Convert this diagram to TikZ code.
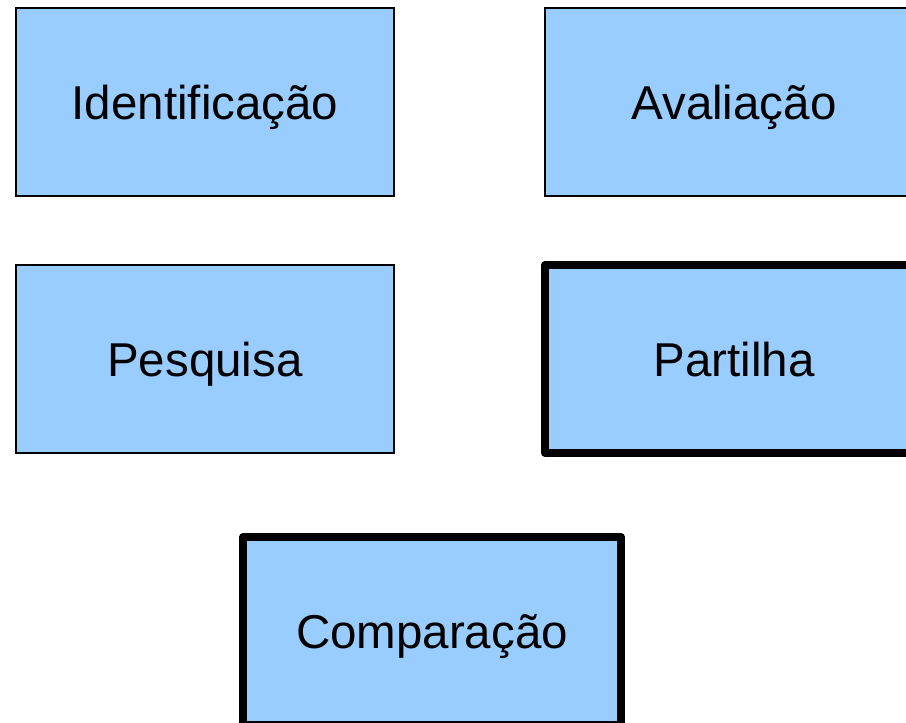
\documentclass[tikz,border=0pt]{standalone}
\usepackage{fontspec}
\setmainfont{Liberation Sans}
\definecolor{stageblue}{HTML}{99CCFF}

\tikzset{
  stagebox/.style={draw=black, fill=stageblue, line width=1.5pt,
    minimum width=378pt, minimum height=188pt, inner sep=0pt,
    text height=34pt, text depth=0pt,
    font=\fontsize{47.5}{56}\selectfont},
  keystage/.style={stagebox, line width=8pt, line join=round}
}

\begin{document}
\begin{tikzpicture}[x=1pt,y=-1pt]
    % page frame
    \useasboundingbox (0,0) rectangle (906,723);
    \clip (0,0) rectangle (906,723);

    % draw top row
    \node[stagebox] (ident) at (205,102) {Identificação};
    \node[stagebox] (aval) at (734,102) {Avaliação};

    % draw middle row
    \node[stagebox] (pesq) at (205,359) {Pesquisa};
    \node[keystage] (part) at (734,359) {Partilha};

    % draw bottom box
    \node[keystage] (comp) at (432,631) {Comparação};
\end{tikzpicture}
\end{document}
